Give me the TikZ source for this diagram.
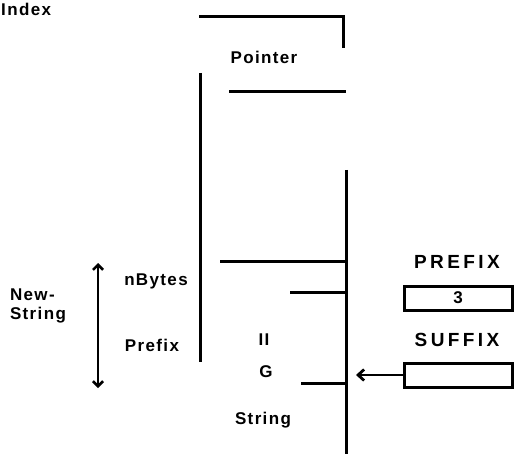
\documentclass[tikz,border=0pt]{standalone}
\usepackage{fontspec}
\setmainfont{Liberation Sans}
\usetikzlibrary{arrows.meta,positioning}

\begin{document}
\begin{tikzpicture}[
  x=1pt,y=-1pt,
  label text/.style={font=\fontsize{17}{19}\selectfont\bfseries\addfontfeatures{LetterSpace=8},inner sep=1pt,align=left},
  caps text/.style={font=\fontsize{19}{21}\selectfont\bfseries\addfontfeatures{LetterSpace=18},inner sep=1pt},
  rule/.style={line width=3pt},
  valbox/.style={draw,line width=3pt,minimum width=108pt,minimum height=24pt,font=\fontsize{17}{19}\selectfont\bfseries},
  span/.style={{Straight Barb[length=5pt,width=10pt]}-{Straight Barb[length=5pt,width=10pt]},line width=2.6pt},
  ptr/.style={-{Straight Barb[length=6pt,width=11pt]},line width=2.8pt}
]
\useasboundingbox (0,0) rectangle (521,454);
\node[label text,anchor=west] (index) at (0,9) {Index};
% pointer block
\coordinate (topL) at (199,17);
\coordinate (topR) at (343,17);
\coordinate (topD) at (343,48);
\draw[rule] (topL) -- (topR) -- (topD);
\node[label text] (pointer) at (264,57) {Pointer};
\coordinate (ptrL) at (229,92);
\coordinate (ptrR) at (346,92);
\draw[rule] (ptrL) -- (ptrR);
\coordinate (leftT) at (200,73);
\coordinate (leftB) at (200,362);
\draw[rule] (leftT) -- (leftB);
% string block
\coordinate (strT) at (346,170);
\coordinate (strB) at (346,454);
\draw[rule] (strT) -- (strB);
\coordinate (nbL) at (220,261);
\coordinate (nbR) at (346,261);
\draw[rule] (nbL) -- (nbR);
\coordinate (pfL) at (290,292);
\coordinate (pfR) at (346,292);
\draw[rule] (pfL) -- (pfR);
\coordinate (sfL) at (301,383);
\coordinate (sfR) at (346,383);
\draw[rule] (sfL) -- (sfR);
\node[label text] (nbytes) at (156,281) {nBytes};
\node[label text] (prefix) at (152,345) {Prefix};
\node[label text] (hh) at (264,340) {II};
\node[label text] (gg) at (266,372) {G};
\node[label text] (string) at (263,420) {String};
% new string span
\coordinate (spanT) at (98,263);
\coordinate (spanB) at (98,388);
\draw[span] (spanT) -- (spanB);
\node[label text] (newstr) at (38,306) {New-\\String};
% right side
\node[caps text] (prefixlbl) at (457,262) {PREFIX};
\node[valbox] (prefixbox) at (458,298) {3};
\node[caps text] (suffixlbl) at (457,340) {SUFFIX};
\node[valbox] (suffixbox) at (458,375) {};
\coordinate (arrowend) at (356,375);
\draw[ptr] (suffixbox) -- (arrowend);
\end{tikzpicture}
\end{document}
